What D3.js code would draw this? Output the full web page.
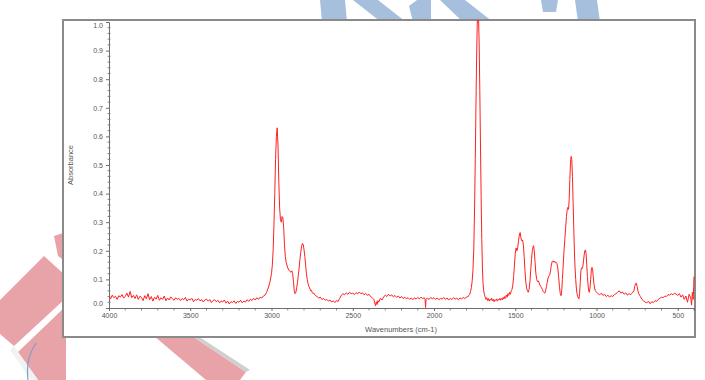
<!DOCTYPE html>
<html>
<head>
<meta charset="utf-8">
<script src="https://cdn.jsdelivr.net/npm/d3@7"></script>
<style>
  html, body { margin: 0; padding: 0; background: #fff; }
  svg { display: block; }
  text { font-family: "Liberation Sans", Arial, sans-serif; }
</style>
</head>
<body>
<svg id="chart" width="705" height="380"></svg>
<script>
// ---- data (wavenumber cm-1, absorbance) ----
const spectrum = [
[4000,.040],[3990,.032],[3980,.045],[3970,.036],[3960,.041],[3950,.030],[3940,.043],[3930,.038],[3920,.047],[3910,.035],
[3900,.040],[3890,.052],[3880,.038],[3870,.058],[3860,.036],[3850,.044],[3840,.033],[3830,.046],[3820,.030],[3810,.041],
[3800,.037],[3790,.026],[3780,.043],[3770,.032],[3760,.050],[3750,.029],[3740,.040],[3730,.024],[3720,.038],[3710,.031],
[3700,.044],[3690,.027],[3680,.036],[3670,.030],[3660,.042],[3650,.025],[3640,.035],[3630,.028],[3620,.039],[3610,.032],
[3600,.027],[3590,.036],[3580,.030],[3570,.034],[3560,.026],[3550,.033],[3540,.029],[3530,.037],[3520,.024],[3510,.031],
[3500,.028],[3490,.034],[3480,.022],[3470,.030],[3460,.027],[3450,.033],[3440,.025],[3430,.029],[3420,.021],[3410,.028],
[3400,.031],[3390,.024],[3380,.030],[3370,.019],[3360,.026],[3350,.029],[3340,.022],[3330,.027],[3320,.018],[3310,.025],
[3300,.021],[3290,.028],[3280,.017],[3270,.024],[3260,.014],[3250,.022],[3240,.019],[3230,.025],[3220,.016],[3210,.023],
[3200,.020],[3190,.027],[3180,.018],[3170,.024],[3160,.021],[3150,.029],[3140,.023],[3130,.031],[3120,.026],[3110,.034],
[3100,.028],[3090,.036],[3080,.030],[3070,.038],[3060,.035],[3050,.042],[3040,.045],[3030,.055],[3020,.070],[3010,.090],
[3000,.120],[2995,.150],[2990,.200],[2985,.290],[2980,.400],[2975,.520],[2970,.600],[2965,.630],[2960,.570],[2955,.440],
[2950,.350],[2945,.310],[2940,.300],[2935,.320],[2930,.315],[2925,.280],[2920,.220],[2915,.180],[2910,.160],[2900,.140],
[2890,.130],[2880,.125],[2875,.130],[2870,.120],[2865,.095],[2860,.060],[2855,.050],[2850,.055],[2845,.070],[2840,.090],
[2835,.115],[2830,.140],[2825,.170],[2820,.195],[2815,.215],[2810,.226],[2805,.222],[2800,.205],[2795,.180],[2790,.150],
[2785,.120],[2780,.100],[2775,.085],[2770,.075],[2765,.070],[2760,.060],[2755,.062],[2750,.055],[2745,.050],[2740,.052],
[2730,.044],[2720,.040],[2710,.035],[2700,.038],[2690,.030],[2680,.033],[2670,.027],[2660,.030],[2650,.024],[2640,.028],
[2630,.021],[2620,.025],[2610,.019],[2600,.026],[2590,.023],[2580,.034],[2570,.045],[2560,.050],[2550,.046],[2540,.053],
[2530,.048],[2520,.055],[2510,.050],[2500,.052],[2490,.047],[2480,.054],[2470,.049],[2460,.056],[2450,.050],[2440,.053],
[2430,.046],[2420,.051],[2410,.044],[2400,.048],[2390,.040],[2380,.036],[2370,.030],[2365,.018],[2360,.008],[2355,.022],
[2350,.012],[2345,.026],[2340,.020],[2330,.034],[2320,.028],[2310,.038],[2300,.045],[2290,.040],[2280,.048],[2270,.042],
[2260,.046],[2250,.039],[2240,.044],[2230,.037],[2220,.042],[2210,.035],[2200,.040],[2190,.033],[2180,.038],[2170,.032],
[2160,.036],[2150,.030],[2140,.035],[2130,.029],[2120,.036],[2110,.031],[2100,.037],[2090,.032],[2080,.038],[2070,.033],
[2060,.036],[2055,.030],[2052,.002],[2049,.031],[2040,.034],[2030,.030],[2020,.037],[2010,.032],[2000,.036],[1990,.030],
[1980,.035],[1970,.029],[1960,.034],[1950,.031],[1940,.037],[1930,.030],[1920,.035],[1910,.028],[1900,.033],[1890,.030],
[1880,.036],[1870,.031],[1860,.034],[1850,.029],[1840,.035],[1830,.032],[1820,.037],[1810,.033],[1800,.038],[1790,.040],
[1785,.045],[1780,.048],[1775,.058],[1770,.072],[1765,.095],[1760,.135],[1755,.210],[1750,.360],[1746,.520],[1742,.700],
[1738,.870],[1734,.990],[1730,1.06],[1726,1.02],[1722,.920],[1718,.760],[1714,.570],[1710,.390],[1706,.240],[1702,.140],
[1698,.085],[1694,.060],[1690,.048],[1685,.038],[1680,.030],[1675,.036],[1670,.026],[1665,.033],[1660,.024],[1655,.031],
[1650,.027],[1645,.034],[1640,.025],[1635,.030],[1630,.022],[1625,.029],[1620,.026],[1615,.032],[1610,.024],[1605,.030],
[1600,.028],[1595,.034],[1590,.027],[1585,.033],[1580,.029],[1575,.037],[1570,.031],[1565,.040],[1560,.034],[1555,.045],
[1550,.038],[1545,.050],[1540,.044],[1535,.055],[1530,.048],[1525,.060],[1520,.065],[1515,.080],[1510,.110],[1505,.150],
[1500,.190],[1495,.210],[1490,.200],[1485,.210],[1480,.235],[1475,.255],[1470,.264],[1465,.245],[1460,.235],[1455,.238],
[1450,.220],[1445,.180],[1440,.130],[1435,.090],[1430,.070],[1425,.060],[1420,.055],[1415,.065],[1410,.090],[1405,.130],
[1400,.170],[1395,.200],[1390,.215],[1387,.218],[1383,.200],[1378,.160],[1373,.120],[1368,.100],[1363,.092],[1358,.095],
[1353,.088],[1348,.080],[1343,.075],[1338,.070],[1333,.065],[1328,.058],[1323,.054],[1318,.052],[1313,.060],[1308,.075],
[1303,.090],[1298,.105],[1293,.112],[1288,.115],[1283,.130],[1278,.150],[1273,.162],[1268,.165],[1263,.160],[1258,.164],
[1253,.158],[1248,.160],[1243,.155],[1238,.140],[1233,.110],[1228,.075],[1223,.050],[1218,.043],[1214,.060],[1210,.100],
[1205,.150],[1200,.200],[1195,.240],[1190,.280],[1185,.320],[1180,.345],[1176,.352],[1172,.345],[1168,.380],[1164,.450],
[1160,.510],[1156,.530],[1152,.520],[1148,.460],[1144,.370],[1140,.280],[1136,.200],[1132,.140],[1128,.100],[1124,.070],
[1120,.050],[1116,.040],[1112,.035],[1108,.032],[1104,.050],[1100,.090],[1096,.130],[1092,.140],[1088,.138],[1084,.145],
[1080,.165],[1076,.185],[1072,.200],[1068,.203],[1064,.190],[1060,.150],[1056,.110],[1052,.080],[1048,.060],[1044,.055],
[1040,.070],[1036,.100],[1032,.130],[1028,.142],[1024,.135],[1020,.110],[1016,.085],[1012,.070],[1008,.062],[1004,.058],
[1000,.055],[995,.052],[990,.050],[980,.046],[970,.052],[960,.044],[950,.048],[940,.040],[930,.045],[920,.038],
[910,.043],[900,.040],[890,.047],[880,.050],[870,.055],[860,.060],[850,.052],[840,.056],[830,.048],[820,.053],
[810,.045],[800,.050],[790,.047],[780,.052],[770,.060],[765,.075],[760,.085],[755,.087],[750,.075],[745,.060],
[740,.050],[730,.040],[720,.030],[710,.025],[700,.020],[690,.018],[680,.024],[670,.015],[660,.022],[650,.019],
[640,.026],[630,.023],[620,.030],[610,.034],[600,.038],[590,.036],[580,.042],[570,.040],[560,.047],[550,.045],
[540,.050],[530,.046],[520,.052],[510,.048],[500,.044],[490,.050],[480,.038],[470,.046],[460,.030],[450,.042],
[440,.020],[430,.048],[420,.035],[415,.010],[410,.055],[405,.030],[402,.075],[400,.110]
];
const xDomain = [4000, 400];
const yDomain = [0, 1.0];
const xTickValues = [4000, 3500, 3000, 2500, 2000, 1500, 1000, 500];
const xMinorTicks = [3900,3800,3700,3600,3400,3300,3200,3100,2900,2800,2700,2600,2400,2300,2200,2100,1900,1800,1700,1600,1400,1300,1200,1100,900,800,700,600,400];
const yTickValues = [0.0, 0.1, 0.2, 0.3, 0.4, 0.5, 0.6, 0.7, 0.8, 0.9, 1.0];
const yMinorTicks = [0.02,0.04,0.06,0.08,0.12,0.14,0.16,0.18,0.22,0.24,0.26,0.28,0.32,0.34,0.36,0.38,0.42,0.44,0.46,0.48,0.52,0.54,0.56,0.58,0.62,0.64,0.66,0.68,0.72,0.74,0.76,0.78,0.82,0.84,0.86,0.88,0.92,0.94,0.96,0.98];
const xTitle = "Wavenumbers (cm-1)";
const yTitle = "Absorbance";

// ---- drawing ----
const svg = d3.select("#chart");
svg.append("rect").attr("width", 705).attr("height", 380).attr("fill", "#fff");

// background watermark shapes
const wm = svg.append("g");
const blueShapes = [
  [[320,0],[345,0],[347,22],[322,22]],
  [[353,0],[378,0],[406,22],[381,22]],
  [[409,6],[417,0],[431,0],[431,22],[413,22]],
  [[440,0],[465,0],[493,22],[463,22]],
  [[541,0],[558,0],[556,12],[543,12]],
  [[575,0],[597,0],[600,22],[578,22]]
];
blueShapes.forEach(p => wm.append("polygon").attr("points", p.join(" ")).attr("fill", "#a5bfdd"));
const pinkShapes = [
  [[44,256],[66,276],[66,298],[14,346],[0,334],[0,300]],
  [[18,352],[66,306],[66,380],[38,380]],
  [[54,236],[66,232],[66,262],[58,256]],
  [[154,336],[192,336],[246,372],[240,380],[206,380]]
];
pinkShapes.forEach(p => wm.append("polygon").attr("points", p.join(" ")).attr("fill", "#e8a3a9"));
wm.append("polygon").attr("points", [[192,336],[198,336],[250,370],[246,372]].join(" ")).attr("fill", "#cfcfcf");
wm.append("polygon").attr("points", [[14,346],[18,352],[38,380],[31,380],[10,350]].join(" ")).attr("fill", "#f2f2f2");
wm.append("path").attr("d", "M36,343 C30,352 26,362 28,380").attr("fill", "none").attr("stroke", "#7f9cc7").attr("stroke-width", 1.2);

// frame
svg.append("rect")
  .attr("x", 63).attr("y", 20).attr("width", 632).attr("height", 317)
  .attr("fill", "#fff").attr("stroke", "#8a8a8a").attr("stroke-width", 2);

const x = d3.scaleLinear().domain(xDomain).range([109, 694]);
const y = d3.scaleLinear().domain(yDomain).range([308, 22]);

const axisColor = "#6e6e6e";
const labelColor = "#555";

// y axis
const gy = svg.append("g").attr("transform", "translate(109,0)")
  .call(d3.axisLeft(y).tickValues(yTickValues).tickSize(3).tickPadding(3).tickFormat(d3.format(".1f")));
gy.select(".domain").attr("stroke", axisColor);
gy.selectAll(".tick line").attr("stroke", axisColor);
gy.selectAll(".tick text").attr("fill", labelColor).attr("font-size", 7)
  .attr("font-family", "Liberation Sans, Arial, sans-serif")
  .attr("dy", d => d === 0 ? "-0.4em" : (d === 1 ? "0.75em" : "0.32em"));
svg.append("g").selectAll("line").data(yMinorTicks).join("line")
  .attr("x1", 107.5).attr("x2", 110.5)
  .attr("y1", d => y(d)).attr("y2", d => y(d))
  .attr("stroke", axisColor).attr("stroke-width", 0.8);

// x axis
const gx = svg.append("g").attr("transform", "translate(0,308)")
  .call(d3.axisBottom(x).tickValues(xTickValues).tickSize(3).tickPadding(2).tickFormat(d3.format("d")));
gx.select(".domain").attr("stroke", axisColor);
gx.selectAll(".tick line").attr("stroke", axisColor);
gx.selectAll(".tick text").attr("fill", labelColor).attr("font-size", 7)
  .attr("font-family", "Liberation Sans, Arial, sans-serif");
svg.append("g").selectAll("line").data(xMinorTicks).join("line")
  .attr("x1", d => x(d)).attr("x2", d => x(d))
  .attr("y1", 308).attr("y2", 310.5)
  .attr("stroke", axisColor).attr("stroke-width", 0.8);

// titles
svg.append("text").attr("x", 401).attr("y", 332).attr("text-anchor", "middle")
  .attr("font-size", 7.5).attr("fill", labelColor).text(xTitle);
svg.append("text").attr("transform", "translate(73,165) rotate(-90)").attr("text-anchor", "middle")
  .attr("font-size", 7.5).attr("fill", labelColor).text(yTitle);

// spectrum
svg.append("clipPath").attr("id", "clip").append("rect")
  .attr("x", 109).attr("y", 20).attr("width", 586).attr("height", 316);
const line = d3.line().x(d => x(d[0])).y(d => y(d[1]));
svg.append("path").datum(spectrum)
  .attr("clip-path", "url(#clip)")
  .attr("d", line)
  .attr("fill", "none")
  .attr("stroke", "#ff2020")
  .attr("stroke-width", 1)
  .attr("stroke-linejoin", "round");
</script>
</body>
</html>
